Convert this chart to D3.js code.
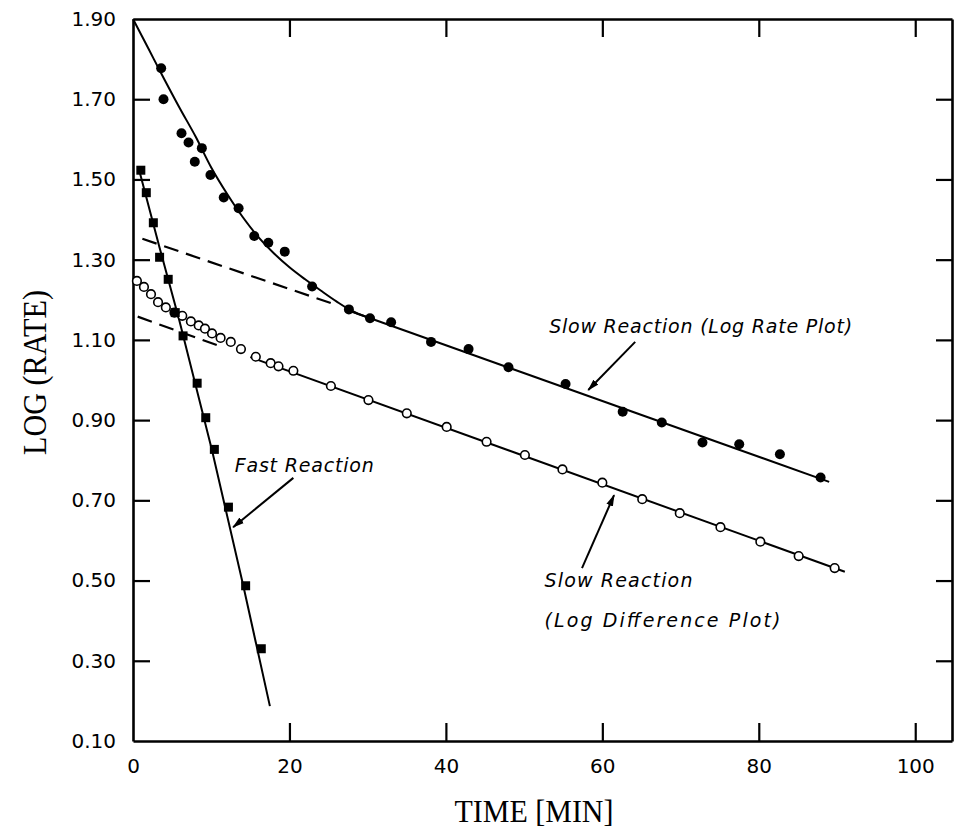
<!DOCTYPE html>
<html><head><meta charset="utf-8">
<script src="https://cdn.jsdelivr.net/npm/d3@7"></script>
<style>body{margin:0;background:#fff} svg{display:block}</style>
</head><body>
<svg id="chart" width="955" height="840"></svg>
<script>
// ---------- data ----------
const xTickValues = [0, 20, 40, 60, 80, 100];
const yTickValues = [0.10, 0.30, 0.50, 0.70, 0.90, 1.10, 1.30, 1.50, 1.70, 1.90];

// Slow reaction, log rate plot (filled circles)
const slowRateTime  = [3.6, 3.9, 6.2, 7.1, 8.8, 7.9, 9.9, 11.6, 13.5, 15.5, 17.3, 19.4, 22.9, 27.6, 30.3, 33.0, 38.1, 42.9, 48.0, 55.3, 62.6, 67.6, 72.8, 77.5, 82.7, 87.9];
const slowRateValue = [1.777, 1.70, 1.615, 1.592, 1.578, 1.544, 1.511, 1.455, 1.428, 1.359, 1.342, 1.320, 1.233, 1.176, 1.154, 1.144, 1.095, 1.077, 1.032, 0.990, 0.921, 0.894, 0.844, 0.840, 0.815, 0.757];

// Hand-drawn total-rate curve (solid)
const curveTime  = [0, 2, 4, 6, 8, 10, 12, 14, 16, 18, 20, 22, 24, 26, 28, 30];
const curveValue = [1.90, 1.825, 1.750, 1.677, 1.607, 1.530, 1.465, 1.407, 1.357, 1.316, 1.281, 1.251, 1.223, 1.196, 1.172, 1.156];

// Slow-reaction fitted line (solid) and its back-extrapolation (dashed)
const slowRateLineTime   = [28, 89];
const slowRateLineValue  = [1.170, 0.746];
const slowRateDashTime   = [1.2, 26];
const slowRateDashValue  = [1.352, 1.187];

// Slow reaction, log difference plot (open circles)
const slowDiffTime  = [0.5, 1.4, 2.3, 3.2, 4.2, 5.3, 6.3, 7.4, 8.4, 9.2, 10.1, 11.2, 12.5, 13.8, 15.7, 17.6, 18.6, 20.5, 25.3, 30.1, 35.0, 40.1, 45.2, 50.1, 54.9, 60.0, 65.1, 69.9, 75.1, 80.2, 85.1, 89.7];
const slowDiffValue = [1.247, 1.232, 1.214, 1.194, 1.181, 1.168, 1.160, 1.146, 1.136, 1.128, 1.116, 1.105, 1.095, 1.077, 1.058, 1.042, 1.034, 1.023, 0.985, 0.950, 0.917, 0.883, 0.846, 0.813, 0.777, 0.744, 0.703, 0.668, 0.633, 0.597, 0.561, 0.531];
const slowDiffLineTime  = [15, 91];
const slowDiffLineValue = [1.057, 0.522];
const slowDiffDashTime  = [0.6, 11];
const slowDiffDashValue = [1.158, 1.085];

// Fast reaction (filled squares) and its line
const fastTime  = [1.0, 1.7, 2.6, 3.4, 4.5, 5.4, 6.4, 8.2, 9.3, 10.4, 12.2, 14.4, 16.4];
const fastValue = [1.523, 1.467, 1.392, 1.306, 1.251, 1.168, 1.110, 0.992, 0.906, 0.827, 0.683, 0.487, 0.330];
const fastLineTime  = [0.7, 3.4, 5.9, 10.1, 14.1, 17.5];
const fastLineValue = [1.530, 1.330, 1.150, 0.825, 0.487, 0.187];

// Annotations (data coordinates)
const labelText  = ["Fast Reaction", "Slow Reaction (Log Rate Plot)", "Slow Reaction", "(Log Difference Plot)"];
const labelTime  = [13.0, 53.2, 52.6, 52.6];
const labelValue = [0.771, 1.117, 0.484, 0.384];
const labelWidth = [139, 303, 148, 236];
const arrowFrom = [[20.5, 0.756], [64.2, 1.095], [57.4, 0.531]];
const arrowTo   = [[12.8, 0.633], [58.2, 0.975], [61.5, 0.713]];

// ---------- drawing ----------
const svg = d3.select("#chart");
const x = d3.scaleLinear().domain([0, 104.7]).range([133, 952]);
const y = d3.scaleLinear().domain([0.10, 1.90]).range([741, 19]);
const zip = (a, b) => a.map((v, i) => [v, b[i]]);
const line = d3.line().x(d => x(d[0])).y(d => y(d[1]));

const tickFont = "'DejaVu Sans', sans-serif";

// axes
const gB = svg.append("g").attr("transform", `translate(0,${y(0.10)})`)
  .call(d3.axisBottom(x).tickValues(xTickValues).tickSizeInner(-18).tickSizeOuter(0).tickPadding(18).tickFormat(d3.format("d")));
const gT = svg.append("g").attr("transform", `translate(0,${y(1.90)})`)
  .call(d3.axisTop(x).tickValues(xTickValues.slice(1)).tickSizeInner(-18).tickSizeOuter(0).tickFormat(""));
const gL = svg.append("g").attr("transform", `translate(${x(0)},0)`)
  .call(d3.axisLeft(y).tickValues(yTickValues).tickSizeInner(-17).tickSizeOuter(0).tickPadding(17).tickFormat(d3.format(".2f")));
const gR = svg.append("g").attr("transform", `translate(${x(104.7)},0)`)
  .call(d3.axisRight(y).tickValues(yTickValues.slice(1, -1)).tickSizeInner(-16).tickSizeOuter(0).tickFormat(""));
[gB, gT, gL, gR].forEach(g => {
  g.select(".domain").attr("stroke", "#000").attr("stroke-width", 2.6);
  g.selectAll(".tick line").attr("stroke", "#000").attr("stroke-width", 2.2);
  g.selectAll(".tick text").attr("fill", "#000").style("font-family", tickFont).style("font-size", "20px");
});
gL.selectAll(".tick").filter(d => d === 0.10 || d === 1.90).select("line").remove();
gB.selectAll(".tick").filter(d => d === 0).select("line").remove();

// axis titles
svg.append("text")
  .attr("transform", `translate(46,${(290 + 455) / 2}) rotate(-90)`)
  .attr("text-anchor", "middle")
  .attr("textLength", 165).attr("lengthAdjust", "spacingAndGlyphs")
  .style("font-family", "'Liberation Serif', 'DejaVu Serif', serif").style("font-size", "34px")
  .text("LOG (RATE)");
svg.append("text")
  .attr("x", 534).attr("y", 822)
  .attr("text-anchor", "middle")
  .attr("textLength", 159).attr("lengthAdjust", "spacingAndGlyphs")
  .style("font-family", "'Liberation Serif', 'DejaVu Serif', serif").style("font-size", "32px")
  .text("TIME [MIN]");

// lines
const plot = svg.append("g").attr("fill", "none").attr("stroke", "#000");
plot.append("path").datum(zip(curveTime, curveValue))
  .attr("d", d3.line().x(d => x(d[0])).y(d => y(d[1])).curve(d3.curveCatmullRom))
  .attr("stroke-width", 2);
plot.append("path").datum(zip(slowRateLineTime, slowRateLineValue)).attr("d", line).attr("stroke-width", 2);
plot.append("path").datum(zip(slowRateDashTime, slowRateDashValue)).attr("d", line).attr("stroke-width", 2.2).attr("stroke-dasharray", "15,8");
plot.append("path").datum(zip(slowDiffLineTime, slowDiffLineValue)).attr("d", line).attr("stroke-width", 2);
plot.append("path").datum(zip(slowDiffDashTime, slowDiffDashValue)).attr("d", line).attr("stroke-width", 2.2).attr("stroke-dasharray", "15,8");
plot.append("path").datum(zip(fastLineTime, fastLineValue)).attr("d", line).attr("stroke-width", 2);

// markers
svg.append("g").selectAll("circle").data(zip(slowRateTime, slowRateValue)).join("circle")
  .attr("cx", d => x(d[0])).attr("cy", d => y(d[1])).attr("r", 5).attr("fill", "#000");
svg.append("g").selectAll("circle").data(zip(slowDiffTime, slowDiffValue)).join("circle")
  .attr("cx", d => x(d[0])).attr("cy", d => y(d[1])).attr("r", 4.3)
  .attr("fill", "#fff").attr("stroke", "#000").attr("stroke-width", 1.6);
svg.append("g").selectAll("rect").data(zip(fastTime, fastValue)).join("rect")
  .attr("x", d => x(d[0]) - 4.5).attr("y", d => y(d[1]) - 4.5).attr("width", 9).attr("height", 9).attr("fill", "#000");

// arrows
const defs = svg.append("defs");
defs.append("marker").attr("id", "ah").attr("viewBox", "0 0 12 8").attr("refX", 11).attr("refY", 4)
  .attr("markerWidth", 12).attr("markerHeight", 8).attr("markerUnits", "userSpaceOnUse").attr("orient", "auto")
  .append("path").attr("d", "M0,0.5 L12,4 L0,7.5 Z").attr("fill", "#000");
svg.append("g").selectAll("line").data(arrowFrom.map((f, i) => [f, arrowTo[i]])).join("line")
  .attr("x1", d => x(d[0][0])).attr("y1", d => y(d[0][1]))
  .attr("x2", d => x(d[1][0])).attr("y2", d => y(d[1][1]))
  .attr("stroke", "#000").attr("stroke-width", 2).attr("marker-end", "url(#ah)");

// labels
svg.append("g").selectAll("text").data(labelText).join("text")
  .attr("x", (d, i) => x(labelTime[i])).attr("y", (d, i) => y(labelValue[i]))
  .attr("textLength", (d, i) => labelWidth[i]).attr("lengthAdjust", "spacing")
  .style("font-family", tickFont).style("font-style", "italic").style("font-size", "19px")
  .text(d => d);
</script>
</body></html>
